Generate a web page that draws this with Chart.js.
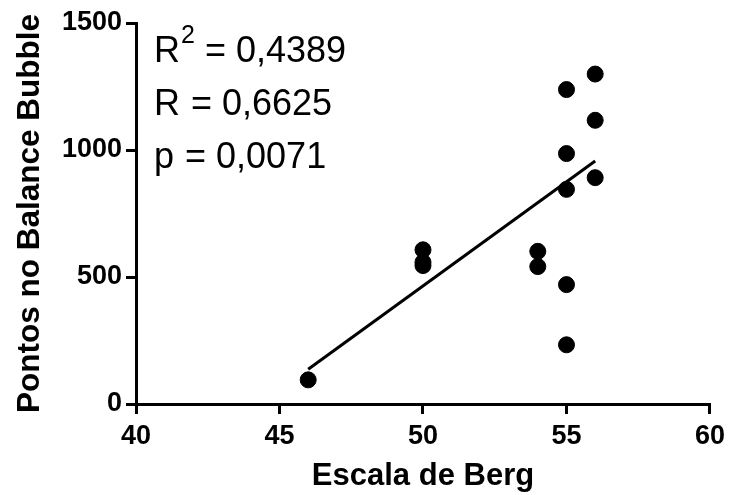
<!DOCTYPE html>
<html lang="pt">
<head>
  <meta charset="UTF-8">
  <title>Escala de Berg x Balance Bubble</title>
  <script src="https://cdn.jsdelivr.net/npm/chart.js"></script>
  <style>
    body { margin: 0; background: #fff; }
    #chartBox { width: 731px; height: 495px; }
  </style>
</head>
<body>
  <div id="chartBox">
    <canvas id="scatterChart" width="731" height="495"></canvas>
  </div>

  <script>
    // data
    const bergScores = [46, 50, 50, 50, 54, 54, 55, 55, 55, 55, 55, 56, 56, 56];
    const bubblePoints = [95, 607, 558, 545, 601, 541, 1238, 986, 845, 470, 233, 1299, 1117, 891];
    const fitX = [46, 56];
    const fitY = [137, 957];
    const xTicks = [40, 45, 50, 55, 60];
    const yTicks = [0, 500, 1000, 1500];
    const statLines = [
      { label: 'R', sup: '2', value: ' = 0,4389' },
      { label: 'R', sup: '', value: ' = 0,6625' },
      { label: 'p', sup: '', value: ' = 0,0071' }
    ];

    const fontFamily = '"Liberation Sans", Arial, Helvetica, sans-serif';

    // writes the R² / R / p block in the top-left corner of the plot
    const statsPlugin = {
      id: 'statsPlugin',
      afterDraw: (chart) => {
        const ctx = chart.ctx;
        const area = chart.chartArea;
        ctx.save();
        ctx.fillStyle = '#000';
        ctx.textBaseline = 'alphabetic';
        ctx.textAlign = 'left';
        statLines.forEach((line, i) => {
          let x = area.left + 18;
          const y = area.top + 39 + i * 53;
          ctx.font = '36px ' + fontFamily;
          ctx.fillText(line.label, x, y);
          x += ctx.measureText(line.label).width + 1;
          if (line.sup) {
            ctx.font = '25px ' + fontFamily;
            ctx.fillText(line.sup, x, y - 19);
            x += ctx.measureText(line.sup).width;
            ctx.font = '36px ' + fontFamily;
          }
          ctx.fillText(line.value, x, y);
        });
        ctx.restore();
      }
    };

    const ctx = document.getElementById('scatterChart').getContext('2d');

    const scatterChart = new Chart(ctx, {
      type: 'scatter',
      data: {
        datasets: [
          {
            label: 'Balance Bubble',
            data: bergScores.map((x, i) => ({ x: x, y: bubblePoints[i] })),
            backgroundColor: '#000',
            borderColor: '#000',
            pointRadius: 8,
            pointHoverRadius: 8,
            order: 1
          },
          {
            label: 'Regressão',
            type: 'line',
            data: fitX.map((x, i) => ({ x: x, y: fitY[i] })),
            borderColor: '#000',
            borderWidth: 3,
            pointRadius: 0,
            fill: false,
            order: 2
          }
        ]
      },
      options: {
        responsive: false,
        animation: false,
        layout: {
          padding: { top: 23, right: 21, left: 0, bottom: 0 }
        },
        plugins: {
          legend: { display: false },
          tooltip: { enabled: false }
        },
        scales: {
          x: {
            type: 'linear',
            min: xTicks[0],
            max: xTicks[xTicks.length - 1],
            afterBuildTicks: (scale) => {
              scale.ticks = xTicks.map(v => ({ value: v }));
            },
            afterFit: (scale) => { scale.height = 91; },
            ticks: {
              color: '#000',
              padding: 6,
              maxRotation: 0,
              callback: (value) => String(value),
              font: { family: fontFamily, size: 27, weight: 'bold' }
            },
            grid: {
              display: true,
              drawOnChartArea: false,
              drawTicks: true,
              tickLength: 10,
              color: '#000',
              lineWidth: 3
            },
            border: { display: true, color: '#000', width: 3 },
            title: {
              display: true,
              text: 'Escala de Berg',
              color: '#000',
              padding: { top: 0, bottom: 0 },
              font: { family: fontFamily, size: 31, weight: 'bold' }
            }
          },
          y: {
            type: 'linear',
            min: yTicks[0],
            max: yTicks[yTicks.length - 1],
            afterBuildTicks: (scale) => {
              scale.ticks = yTicks.map(v => ({ value: v }));
            },
            afterFit: (scale) => { scale.width = 136; },
            ticks: {
              color: '#000',
              padding: 4,
              callback: (value) => String(value),
              font: { family: fontFamily, size: 27, weight: 'bold' }
            },
            grid: {
              display: true,
              drawOnChartArea: false,
              drawTicks: true,
              tickLength: 10,
              color: '#000',
              lineWidth: 3
            },
            border: { display: true, color: '#000', width: 3 },
            title: {
              display: true,
              text: 'Pontos no Balance Bubble',
              color: '#000',
              padding: { top: 11, bottom: 0 },
              font: { family: fontFamily, size: 31.5, weight: 'bold' }
            }
          }
        }
      },
      plugins: [statsPlugin]
    });
  </script>
</body>
</html>
